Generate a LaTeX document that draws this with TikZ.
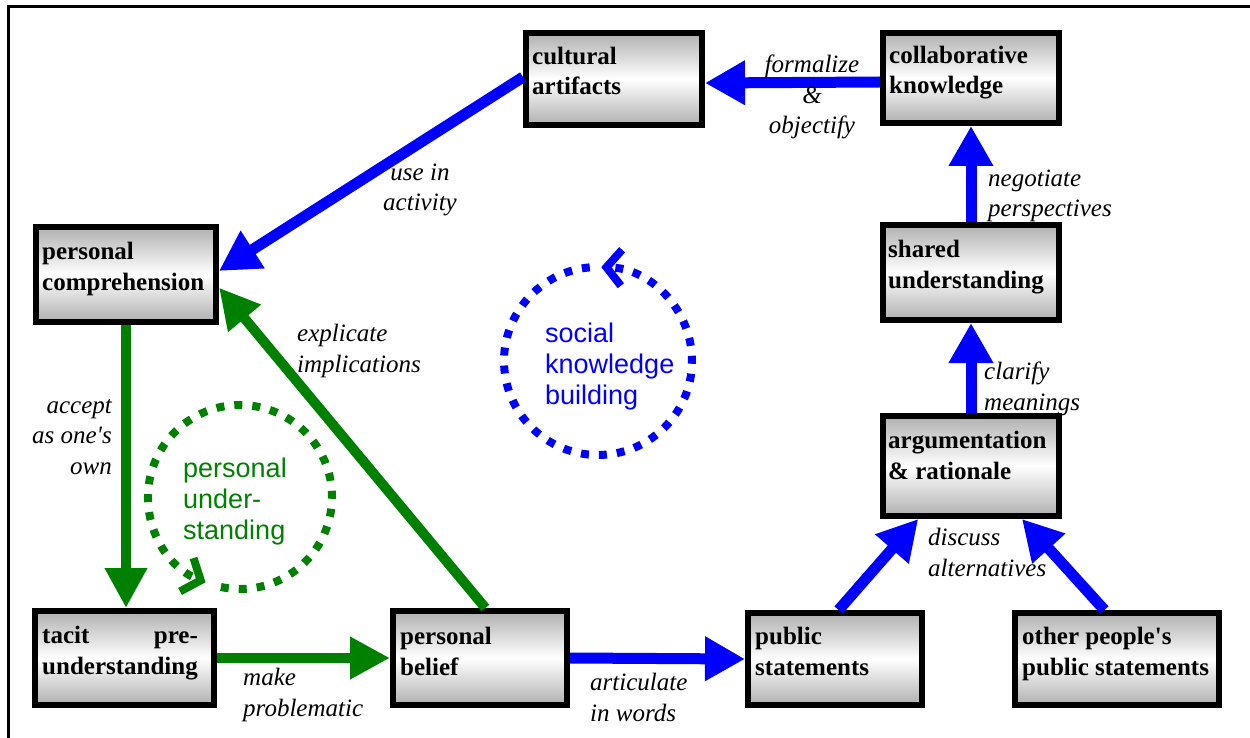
\documentclass[tikz,border=0pt]{standalone}
\usepackage{fontspec}
\setmainfont{Liberation Serif}
\setsansfont{Liberation Sans}
\usetikzlibrary{arrows.meta,calc}
\definecolor{dgreen}{RGB}{0,128,0}
\definecolor{pblue}{RGB}{0,0,255}
\newlength\tpw
\tikzset{
 box/.style={draw=black, line width=6pt, top color=gray!62, bottom color=gray!62, middle color=white, anchor=north west, inner sep=0pt},
 boxtext/.style={anchor=base west, align=left, inner sep=0pt, font=\fontsize{25}{30.5}\selectfont\bfseries},
 lab/.style={inner sep=0pt, font=\fontsize{25}{30.5}\selectfont\itshape},
 barrow/.style={draw=pblue, fill=pblue, line width=11pt, -{Triangle[length=40pt,width=42pt]}},
 garrow/.style={draw=dgreen, fill=dgreen, line width=10pt, -{Triangle[length=40pt,width=40pt]}},
 cyc/.style={line width=8pt, dash pattern=on 8pt off 10pt, -{Straight Barb[length=15pt,width=36pt]}},
 ctext/.style={font=\fontsize{27}{31}\selectfont\sffamily, align=left, inner sep=0pt, anchor=base west},
}
\begin{document}
\begin{tikzpicture}[x=1pt,y=1pt]
\useasboundingbox (0,0) rectangle (1250,-738);
\draw[line width=3pt] (8,-738) -- (8,-7) -- (1250,-7);

% boxes
\node[box, minimum width=176pt, minimum height=92pt] (ca) at (523,-30) {};
\node[box, minimum width=176pt, minimum height=90pt] (ck) at (880,-30) {};
\node[box, minimum width=180pt, minimum height=95pt] (pc) at (33,-224) {};
\node[box, minimum width=176pt, minimum height=95pt] (su) at (880,-222) {};
\node[box, minimum width=176pt, minimum height=100pt] (ar) at (880,-413) {};
\node[box, minimum width=179pt, minimum height=94pt] (tp) at (32,-608) {};
\node[box, minimum width=174pt, minimum height=94pt] (pb) at (390,-608) {};
\node[box, minimum width=174pt, minimum height=92pt] (ps) at (745,-610) {};
\node[box, minimum width=204pt, minimum height=92pt] (op) at (1012,-610) {};

% box texts (anchor = baseline of last line)
\node[boxtext] (cat) at (532,-95) {cultural\\artifacts};
\node[boxtext] (ckt) at (889,-94) {collaborative\\knowledge};
\node[boxtext] (pct) at (42,-290) {personal\\comprehension};
\node[boxtext] (sut) at (888,-288) {shared\\understanding};
\node[boxtext] (art) at (888,-479) {argumentation\\\& rationale};
\node[boxtext] (tpt) at (42,-674) {\settowidth{\tpw}{understanding}\makebox[\tpw][l]{tacit\hfill pre-}\\understanding};
\node[boxtext] (pbt) at (400,-675) {personal\\belief};
\node[boxtext] (pst) at (755,-675) {public\\statements};
\node[boxtext] (opt) at (1022,-675) {other people\textquotesingle s\\public statements};

% connectors
\draw[barrow] ($(ck.west)+(0,-4)$) -- ($(ca.east)+(0,-4)$);
\draw[barrow] ($(ca.north west)!0.48!(ca.south west)$) -- ($(pc.north east)!0.465!(pc.south east)$);
\draw[garrow] (pc.south) -- (pc.south |- tp.north);
\draw[garrow] (tp.east) -- (pb.west);
\draw[garrow] ($(pb.north west)!0.53!(pb.north east)$) -- ($(pc.north east)!0.63!(pc.south east)$);
\draw[barrow] (pb.east) -- (ps.west);
\draw[barrow] ($(ps.north west)!0.52!(ps.north east)$) -- ($(ar.south west)!0.21!(ar.south east)$);
\draw[barrow] ($(op.north west)!0.44!(op.north east)$) -- ($(ar.south west)!0.78!(ar.south east)$);
\draw[barrow] (ar.north) -- (su.south);
\draw[barrow] (su.north) -- (ck.south);

% connector labels (anchor = baseline of last line)
\node[lab, align=center, anchor=base] (l1) at (812,-134) {formalize\\\&\\objectify};
\node[lab, align=center, anchor=base] (l2) at (420,-211) {use in\\activity};
\node[lab, align=left, anchor=base west] (l3) at (988,-217) {negotiate\\perspectives};
\node[lab, align=left, anchor=base west] (l4) at (984,-410) {clarify\\meanings};
\node[lab, align=right, anchor=base east] (l5) at (112,-474) {accept\\as one\textquotesingle s\\own};
\node[lab, align=left, anchor=base west] (l6) at (297,-372) {explicate\\implications};
\node[lab, align=left, anchor=base west] (l7) at (928,-576) {discuss\\alternatives};
\node[lab, align=left, anchor=base west] (l8) at (243,-716) {make\\problematic};
\node[lab, align=left, anchor=base west] (l9) at (590,-721) {articulate\\in words};

% cycles
\coordinate (bc) at (598,-361);
\coordinate (gc) at (240,-497);
\draw[cyc, draw=pblue] ($(bc)+(95:94)$) arc[start angle=95, end angle=448, radius=94];
\draw[cyc, draw=dgreen] ($(gc)+(258:92)$) arc[start angle=258, end angle=608, radius=92];
\node[ctext, text=pblue] (skb) at (545,-404) {social\\knowledge\\building};
\node[ctext, text=dgreen] (pus) at (183,-539) {personal\\under-\\standing};
\end{tikzpicture}
\end{document}
